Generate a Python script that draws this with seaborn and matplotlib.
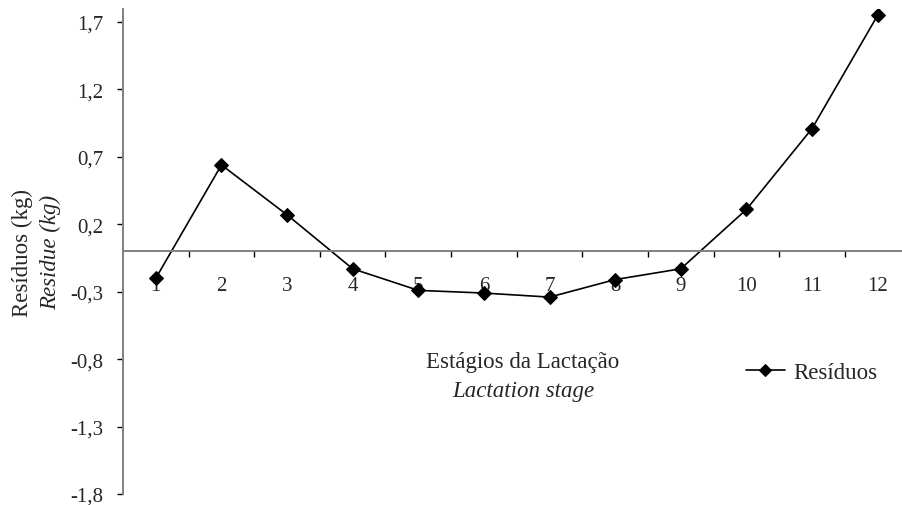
import matplotlib
matplotlib.use("Agg")
import matplotlib.pyplot as plt
import seaborn as sns
import pandas as pd
import numpy as np

# Data
stages = [1, 2, 3, 4, 5, 6, 7, 8, 9, 10, 11, 12]
residues = [-0.20, 0.64, 0.27, -0.13, -0.29, -0.31, -0.34, -0.21, -0.13, 0.31, 0.91, 1.75]
yticks = [-1.8, -1.3, -0.8, -0.3, 0.2, 0.7, 1.2, 1.7]
ytick_labels = ["-1,8", "-1,3", "-0,8", "-0,3", "0,2", "0,7", "1,2", "1,7"]
series_name = "Resíduos"

sns.set_style("white")
plt.rcParams["font.family"] = ["Liberation Serif", "DejaVu Serif"]

df = pd.DataFrame({"stage": stages, "res": residues})

W, H = 903, 506
fig = plt.figure(figsize=(W / 100, H / 100), dpi=100)
left_px, right_px, top_px, bot_px = 123.0, 910.5, 9.5, 495.0
ax = fig.add_axes([left_px / W, (H - bot_px) / H, (right_px - left_px) / W, (bot_px - top_px) / H])

sns.lineplot(data=df, x="stage", y="res", ax=ax, color="black", marker="D",
             markersize=7.3, markeredgecolor="black", linewidth=1.2, label=series_name)

ax.set_xlim(0.5, 12.5)
ax.set_ylim(-1.8, 1.8)

for s in ["top", "right"]:
    ax.spines[s].set_visible(False)
ax.spines["left"].set_color("#808080")
ax.spines["left"].set_linewidth(1.4)
ax.spines["bottom"].set_position(("data", 0))
ax.spines["bottom"].set_color("#808080")
ax.spines["bottom"].set_linewidth(1.4)

tick_fs = 15
label_fs = 16.5

ax.set_yticks(yticks)
ax.set_yticklabels(ytick_labels)
ax.tick_params(axis="y", direction="out", length=4, width=1, color="black", pad=10, labelsize=tick_fs, left=True)

ax.set_xticks([x + 0.5 for x in stages])
ax.set_xticklabels([])
ax.set_xticks(stages, minor=True)
ax.set_xticklabels([str(s) for s in stages], minor=True)
ax.tick_params(axis="x", which="major", direction="out", length=4, width=1, color="black", bottom=True)
ax.tick_params(axis="x", which="minor", length=0, pad=18, labelsize=tick_fs, bottom=True)

ax.set_xlabel("")
ax.set_ylabel("")

fig.text(22.5 / W, 1 - 253 / H, "Resíduos (kg)", rotation=90, ha="center", va="center", fontsize=label_fs)
fig.text(51 / W, 1 - 252 / H, "Residue (kg)", rotation=90, ha="center", va="center", fontsize=label_fs, style="italic")
fig.text(523 / W, 1 - 363 / H, "Estágios da Lactação", ha="center", va="center", fontsize=label_fs)
fig.text(523 / W, 1 - 392 / H, "Lactation stage", ha="center", va="center", fontsize=label_fs, style="italic")

leg = ax.legend(loc="center left", bbox_to_anchor=(746 / W, 1 - 373 / H), bbox_transform=fig.transFigure,
                frameon=False, fontsize=label_fs, handlelength=1.7, handletextpad=0.35, borderpad=0, borderaxespad=0)
for h in leg.legend_handles:
    h.set_markersize(6)

fig.savefig("out.png", dpi=100)
